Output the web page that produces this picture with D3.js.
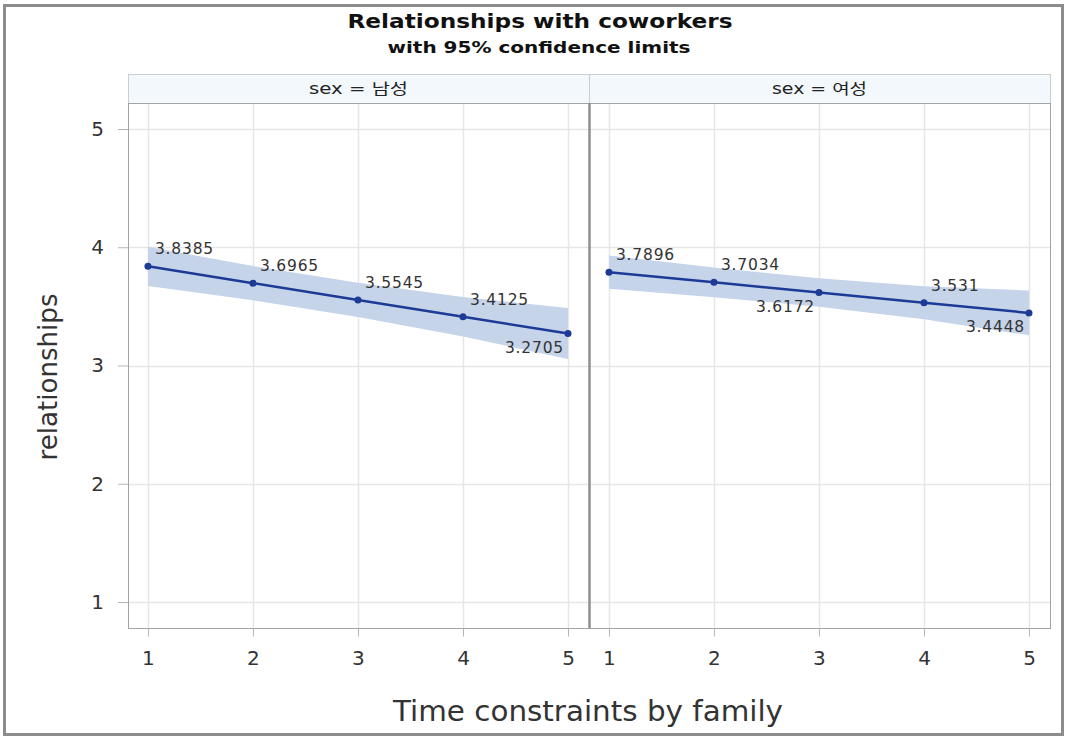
<!DOCTYPE html>
<html>
<head>
<meta charset="utf-8">
<script src="https://cdn.jsdelivr.net/npm/d3@7"></script>
<style>
  html, body { margin: 0; padding: 0; background: #fff; }
  svg { display: block; }
  text { font-family: "DejaVu Sans", "Noto Sans CJK KR", sans-serif; }
</style>
</head>
<body>
<svg id="chart" width="1066" height="737"></svg>
<script>
// Predicted relationships score by family time constraint, split by sex
const xValues = [1, 2, 3, 4, 5];
const panelLabels = ["남성", "여성"];

const meanMale   = [3.8385, 3.6965, 3.5545, 3.4125, 3.2705];
const lowerMale  = [3.672, 3.552, 3.410, 3.245, 3.055];
const upperMale  = [4.004, 3.841, 3.699, 3.580, 3.486];

const meanFemale  = [3.7896, 3.7034, 3.6172, 3.531, 3.4448];
const lowerFemale = [3.650, 3.578, 3.497, 3.391, 3.255];
const upperFemale = [3.930, 3.828, 3.737, 3.671, 3.635];

const yTicks = [1, 2, 3, 4, 5];
const xTicks = [1, 2, 3, 4, 5];

const panelData = [
  { label: panelLabels[0], mean: meanMale, lower: lowerMale, upper: upperMale },
  { label: panelLabels[1], mean: meanFemale, lower: lowerFemale, upper: upperFemale }
];

// value labels drawn beneath their point instead of above it
const belowLabels = [[4], [2, 4]];

const svg = d3.select("#chart");

// outer frame
svg.append("rect")
  .attr("x", 4.5).attr("y", 5.5).attr("width", 1058).attr("height", 729)
  .attr("fill", "#fff").attr("stroke", "#8c8c8c").attr("stroke-width", 3);

// titles
svg.append("text").attr("x", 540).attr("y", 28).attr("text-anchor", "middle")
  .attr("font-size", 19.5).attr("font-weight", "bold").attr("fill", "#111")
  .attr("textLength", 385).attr("lengthAdjust", "spacingAndGlyphs")
  .text("Relationships with coworkers");
svg.append("text").attr("x", 539).attr("y", 53).attr("text-anchor", "middle")
  .attr("font-size", 15.5).attr("font-weight", "bold").attr("fill", "#111")
  .attr("textLength", 303).attr("lengthAdjust", "spacingAndGlyphs")
  .text("with 95% confidence limits");

const plotTop = 103, plotBottom = 628, stripTop = 74;
const panelX = [[128, 589], [589, 1050]];
const stripTextWidth = [99, 95];

const y = d3.scaleLinear().domain([0.78, 5.22]).range([plotBottom, plotTop]);

panelData.forEach((p, i) => {
  const [x0, x1] = panelX[i];
  const x = d3.scaleLinear().domain([0.81, 5.2]).range([x0, x1]);
  const g = svg.append("g");

  // strip header
  g.append("rect").attr("x", x0 + 0.5).attr("y", stripTop + 0.5)
    .attr("width", x1 - x0).attr("height", plotTop - stripTop)
    .attr("fill", "#f3f8fd").attr("stroke", "#c9cdd2");
  g.append("text").attr("x", (x0 + x1) / 2).attr("y", 94)
    .attr("text-anchor", "middle").attr("font-size", 15).attr("fill", "#222")
    .attr("textLength", stripTextWidth[i]).attr("lengthAdjust", "spacingAndGlyphs")
    .text("sex = " + p.label);

  // gridlines
  g.selectAll(".gy").data(yTicks).join("line")
    .attr("x1", x0).attr("x2", x1)
    .attr("y1", d => Math.round(y(d)) + 0.5).attr("y2", d => Math.round(y(d)) + 0.5)
    .attr("stroke", "#e6e6e6").attr("stroke-width", 1.5);
  g.selectAll(".gx").data(xTicks).join("line")
    .attr("y1", plotTop).attr("y2", plotBottom)
    .attr("x1", d => Math.round(x(d)) + 0.5).attr("x2", d => Math.round(x(d)) + 0.5)
    .attr("stroke", "#e6e6e6").attr("stroke-width", 1.5);

  // confidence band
  const area = d3.area()
    .x((d, j) => x(xValues[j]))
    .y0((d, j) => y(p.lower[j]))
    .y1((d, j) => y(p.upper[j]));
  g.append("path").datum(p.mean).attr("d", area).attr("fill", "#c6d4ea");

  // fitted line and markers
  const line = d3.line().x((d, j) => x(xValues[j])).y(d => y(d));
  g.append("path").datum(p.mean).attr("d", line)
    .attr("fill", "none").attr("stroke", "#1c3a96").attr("stroke-width", 2.5);
  g.selectAll(".pt").data(p.mean).join("circle")
    .attr("cx", (d, j) => x(xValues[j])).attr("cy", d => y(d))
    .attr("r", 3.5).attr("fill", "#1c3a96");

  // value labels
  g.selectAll(".lbl").data(p.mean).join("text")
    .attr("font-size", 15.5).attr("fill", "#333").attr("letter-spacing", 0.8)
    .each(function(d, j) {
      const below = belowLabels[i].includes(j);
      const t = d3.select(this);
      const px = x(xValues[j]), py = y(d);
      if (below) {
        t.attr("x", px - 4).attr("y", py + 19).attr("text-anchor", "end");
      } else {
        t.attr("x", px + 7).attr("y", py - 12).attr("text-anchor", "start");
      }
    })
    .text(d => String(d));

  // panel frame
  g.append("rect").attr("x", x0 + 0.5).attr("y", plotTop + 0.5)
    .attr("width", x1 - x0).attr("height", plotBottom - plotTop)
    .attr("fill", "none").attr("stroke", "#a3a3a3");

  // x axis
  const xa = g.append("g").attr("transform", `translate(0,${plotBottom + 0.5})`)
    .call(d3.axisBottom(x).tickValues(xTicks).tickSize(8).tickPadding(14).tickFormat(d3.format("d")));
  xa.select(".domain").remove();
  xa.selectAll("line").attr("stroke", "#b5b5b5");
  xa.selectAll("text").attr("font-size", 20).attr("fill", "#333")
    .attr("font-family", "'DejaVu Sans', sans-serif");
});

// separator between panels
svg.append("line").attr("x1", 589.5).attr("x2", 589.5)
  .attr("y1", plotTop).attr("y2", plotBottom)
  .attr("stroke", "#8f8f8f").attr("stroke-width", 2.5);

// y axis
const ya = svg.append("g").attr("transform", "translate(128,0)")
  .call(d3.axisLeft(y).tickValues(yTicks).tickSize(10).tickPadding(14).tickFormat(d3.format("d")));
ya.select(".domain").remove();
ya.selectAll("line").attr("stroke", "#b5b5b5");
ya.selectAll("text").attr("font-size", 20).attr("fill", "#333")
  .attr("font-family", "'DejaVu Sans', sans-serif");

// axis titles
svg.append("text")
  .attr("transform", "translate(57,377) rotate(-90)")
  .attr("text-anchor", "middle").attr("font-size", 27).attr("fill", "#333")
  .attr("textLength", 167).attr("lengthAdjust", "spacingAndGlyphs")
  .text("relationships");
svg.append("text").attr("x", 588).attr("y", 721).attr("text-anchor", "middle")
  .attr("font-size", 28).attr("fill", "#333")
  .attr("textLength", 390).attr("lengthAdjust", "spacingAndGlyphs")
  .text("Time constraints by family");
</script>
</body>
</html>
